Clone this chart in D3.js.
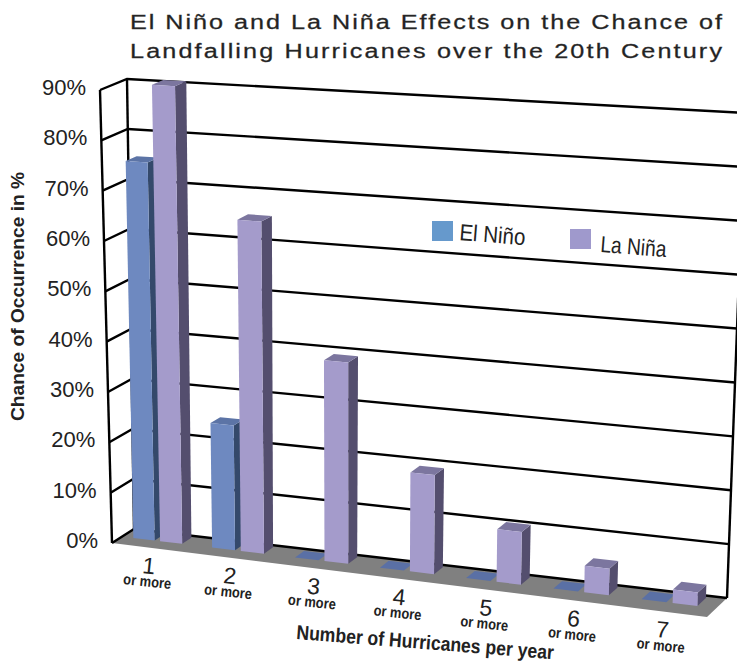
<!DOCTYPE html>
<html>
<head>
<meta charset="utf-8">
<script src="https://cdnjs.cloudflare.com/ajax/libs/d3/7.8.5/d3.min.js"></script>
<style>
  body { margin: 0; background: #fff; }
  text { font-family: 'Liberation Sans', Arial, sans-serif; fill: #222; }
</style>
</head>
<body>
<svg id="chart" width="737" height="666"></svg>
<script>
const categories = ['1', '2', '3', '4', '5', '6', '7']
const elNino = [75, 24.5, 0, 0, 0, 0, 0]
const laNina = [90.5, 65, 39, 19, 10, 5, 2.5]
const yTicks = [0, 10, 20, 30, 40, 50, 60, 70, 80, 90]
const titleLines = [
  'El Niño and La Niña Effects on the Chance of',
  'Landfalling Hurricanes over the 20th Century'
]

const width = 737
const height = 666

const svg = d3.select('#chart').attr('width', width).attr('height', height)

/// corners of the 3d box as they land on the page ////////////////
// u left to right, v bottom to top, d front to back
const corners = {
  front: { bl: [112, 543], br: [707, 617], tl: [100, 90], tr: [720, 130] },
  back: { bl: [134, 529], br: [727, 598], tl: [127, 79], tr: [745, 113] }
}

function project(u, v, d) {
  const plane = k => {
    const c = corners[k]
    const bottom = d3.interpolate(c.bl, c.br)(u)
    const top = d3.interpolate(c.tl, c.tr)(u)
    return d3.interpolate(bottom, top)(v)
  }
  return d3.interpolate(plane('front'), plane('back'))(d)
}

/// Scales ////////////////////////////////
// the power bend stands in for perspective, slots get wider to the right
const xScale = d3.scalePow().exponent(1.05).domain([0, categories.length]).range([0, 1])
const yScale = d3.scaleLinear().domain([0, 90]).range([0, 1])
const dScale = d3.scaleLinear().domain([0, 1]).range([0.46, 0.88])

const barStart = { el: 0.16, la: 0.51 }
const barWidth = 0.28

const line = d3.line()
const poly = pts => line(pts) + 'Z'

/// floor ////////////////////////////////
svg.append('path')
  .attr('d', poly([project(0, 0, 0), project(1, 0, 0), project(1, 0, 1), project(0, 0, 1)]))
  .attr('fill', '#808080')

/// grid: front tick, back corner, across the wall ////////////////
svg.append('g')
  .selectAll('path')
  .data(yTicks)
  .enter()
  .append('path')
  .attr('d', t => {
    const v = yScale(t)
    return line([project(0, v, 0), project(0, v, 1), project(1, v, 1)])
  })
  .attr('fill', 'none')
  .attr('stroke', '#000')
  .attr('stroke-width', 2.4)

const edges = [
  [project(0, 0, 0), project(0, 1, 0)],
  [project(0, 0, 1), project(0, 1, 1)],
  [project(1, 0, 1), project(1, 1, 1)]
]
svg.append('g')
  .selectAll('path')
  .data(edges)
  .enter()
  .append('path')
  .attr('d', d => line(d))
  .attr('fill', 'none')
  .attr('stroke', '#000')
  .attr('stroke-width', 2.4)

/// bars ////////////////////////////////
function drawBar(g, i, value, start, colors) {
  const u0 = xScale(i + start)
  const u1 = xScale(i + start + barWidth)
  const v = yScale(value)
  const d0 = dScale(0)
  const d1 = dScale(1)

  if (value > 0) {
    g.append('path')
      .attr('d', poly([project(u1, 0, d0), project(u1, 0, d1), project(u1, v, d1), project(u1, v, d0)]))
      .attr('fill', colors.side)
  }
  g.append('path')
    .attr('d', poly([project(u0, v, d0), project(u1, v, d0), project(u1, v, d1), project(u0, v, d1)]))
    .attr('fill', value > 0 ? colors.top : colors.flat)
  if (value > 0) {
    g.append('path')
      .attr('d', poly([project(u0, 0, d0), project(u1, 0, d0), project(u1, v, d0), project(u0, v, d0)]))
      .attr('fill', colors.front)
  }
}

const elColors = { front: '#6e89c0', side: '#34496b', top: '#5c74a6', flat: '#5a70a5' }
const laColors = { front: '#a49bcb', side: '#544e6e', top: '#7c769f', flat: '#7c769f' }

const bars = svg.append('g')
categories.forEach((c, i) => {
  drawBar(bars, i, elNino[i], barStart.el, elColors)
  drawBar(bars, i, laNina[i], barStart.la, laColors)
})

/// y tick labels ////////////////////////////////
svg.append('g')
  .selectAll('text')
  .data(yTicks)
  .enter()
  .append('text')
  .attr('x', t => project(0, yScale(t), 0)[0] - 14)
  .attr('y', t => project(0, yScale(t), 0)[1] + 5)
  .attr('text-anchor', 'end')
  .attr('font-size', 22)
  .text(t => t + '%')

/// category labels ////////////////////////////////
const catLabels = svg.append('g')
  .selectAll('g')
  .data(categories)
  .enter()
  .append('g')
  .attr('transform', (c, i) => {
    const p = project(xScale(i + 0.52), 0, 0)
    return `translate(${p[0]},${p[1]}) rotate(6)`
  })

catLabels.append('text')
  .attr('y', 26)
  .attr('text-anchor', 'middle')
  .attr('font-size', 23)
  .text(c => c)

catLabels.append('text')
  .attr('y', 39)
  .attr('text-anchor', 'middle')
  .attr('font-size', 15)
  .attr('font-weight', 'bold')
  .attr('textLength', 48)
  .attr('lengthAdjust', 'spacingAndGlyphs')
  .text('or more')

/// axis titles ////////////////////////////////
svg.append('text')
  .attr('transform', 'translate(24,421) rotate(-90)')
  .attr('font-size', 19)
  .attr('font-weight', 'bold')
  .attr('textLength', 249)
  .attr('lengthAdjust', 'spacingAndGlyphs')
  .text('Chance of Occurrence in %')

svg.append('text')
  .attr('transform', 'translate(296,639) rotate(4.5)')
  .attr('font-size', 20)
  .attr('font-weight', 'bold')
  .attr('textLength', 258)
  .attr('lengthAdjust', 'spacingAndGlyphs')
  .text('Number of Hurricanes per year')

/// title: letters stretched wide as in the original ////////////////
svg.append('g')
  .attr('transform', 'translate(130,0) scale(1.2,1)')
  .selectAll('text')
  .data(titleLines)
  .enter()
  .append('text')
  .attr('x', 0)
  .attr('y', (d, i) => 29 + i * 29)
  .attr('font-size', 21)
  .attr('textLength', 592 / 1.2)
  .attr('lengthAdjust', 'spacing')
  .attr('fill', '#333')
  .attr('stroke', '#333')
  .attr('stroke-width', 0.3)
  .text(d => d)

/// legend ////////////////////////////////
const legendItems = [
  { label: 'El Niño', color: '#6699cc', x: 432, y: 221, tx: 459, ty: 240 },
  { label: 'La Niña', color: '#9f99cc', x: 570, y: 229, tx: 600, ty: 252 }
]
const legend = svg.append('g')
legendItems.forEach(d => {
  legend.append('rect')
    .attr('x', d.x)
    .attr('y', d.y)
    .attr('width', 21)
    .attr('height', 20)
    .attr('fill', d.color)
  legend.append('text')
    .attr('transform', `translate(${d.tx},${d.ty}) rotate(4.5)`)
    .attr('font-size', 23)
    .attr('textLength', 66)
    .attr('lengthAdjust', 'spacingAndGlyphs')
    .text(d.label)
})
</script>
</body>
</html>
